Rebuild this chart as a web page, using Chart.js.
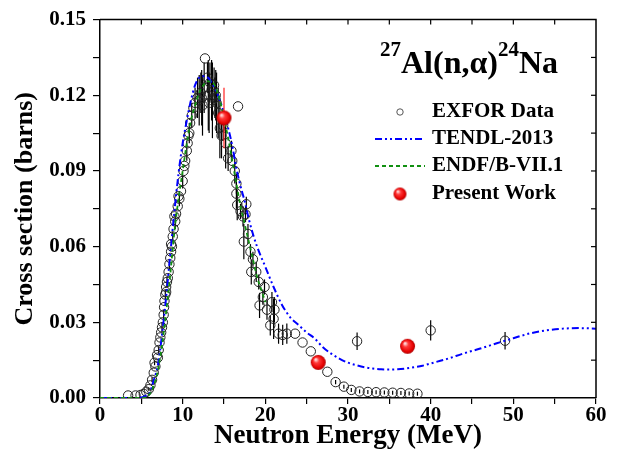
<!DOCTYPE html>
<html>
<head>
<meta charset="utf-8">
<script src="https://cdn.jsdelivr.net/npm/chart.js@4.4.1/dist/chart.umd.min.js"></script>
<style>
  html, body { margin: 0; padding: 0; background: #fff; }
  #wrap { position: relative; width: 618px; height: 461px; }
</style>
</head>
<body>
<div id="wrap"><canvas id="xsChart"></canvas></div>
<script>
// EXFOR measurements: energy (MeV), cross section (b), error (b)
const exforE = [3.4, 4.3, 4.9, 5.3, 5.6, 5.9, 6.1, 6.3, 6.5, 6.6, 6.7, 6.9, 7.0, 7.1, 7.2, 7.3, 7.4, 7.5, 7.6, 7.7,
  7.75, 7.8, 7.9, 8.0, 8.0, 8.1, 8.2, 8.3, 8.4, 8.5, 8.6, 8.6, 8.7, 8.8, 8.9, 9.0, 9.1, 9.2, 9.4, 9.5,
  9.6, 9.8, 10.0, 10.1, 10.2, 10.3, 10.5, 10.6, 10.7, 10.8, 10.9, 11.1, 11.3, 11.5, 11.8, 12.0, 12.2, 12.3, 12.4, 12.6,
  12.7, 13.0, 13.1, 13.2, 13.3, 13.5, 13.6, 13.8, 13.9, 14.0, 14.1, 14.3, 14.5, 14.7, 14.9, 15.2, 15.5, 15.9, 16.0, 16.3,
  16.5, 16.5, 16.6, 16.7, 17.0, 17.3, 17.4, 17.6, 17.7, 17.9, 18.2, 18.3, 18.5, 18.9, 19.2, 19.3, 19.7, 19.9, 20.2, 20.6,
  20.8, 21.0, 21.1, 21.6, 22.1, 22.6, 23.6, 24.5, 25.5, 27.5, 28.5, 29.5, 30.4, 31.4, 32.4, 33.4, 34.4, 35.4, 36.4, 37.4,
  38.4, 31.1, 40.0, 49.0];
const exforXs = [0.0010, 0.0010, 0.0012, 0.0016, 0.0025, 0.0035, 0.0050, 0.0072, 0.0100, 0.0140, 0.0125, 0.0170, 0.0160, 0.0190, 0.0220, 0.0240, 0.0260, 0.0280, 0.0300, 0.0330,
  0.0360, 0.0385, 0.0410, 0.0440, 0.0420, 0.0460, 0.0475, 0.0500, 0.0530, 0.0555, 0.0580, 0.0610, 0.0600, 0.0640, 0.0670, 0.0720, 0.0700, 0.0730, 0.0760, 0.0800,
  0.0790, 0.0820, 0.0860, 0.0900, 0.0920, 0.0940, 0.0980, 0.1010, 0.1040, 0.1050, 0.1090, 0.1120, 0.1150, 0.1170, 0.1190, 0.1180, 0.1210, 0.1190, 0.1160, 0.1230,
  0.1346, 0.1270, 0.1200, 0.1170, 0.1250, 0.1220, 0.1180, 0.1240, 0.1190, 0.1200, 0.1170, 0.1130, 0.1070, 0.1040, 0.1080, 0.1010, 0.0950, 0.0980, 0.0940, 0.0900,
  0.0850, 0.0810, 0.0765, 0.1156, 0.0740, 0.0720, 0.0620, 0.0728, 0.0768, 0.0650, 0.0580, 0.0500, 0.0550, 0.0500, 0.0460, 0.0367, 0.0400, 0.0440, 0.0350, 0.0288,
  0.0380, 0.0314, 0.0350, 0.0255, 0.0250, 0.0255, 0.0255, 0.0220, 0.0185, 0.0104, 0.0063, 0.0045, 0.0032, 0.0026, 0.0024, 0.0023, 0.0022, 0.0021, 0.0020, 0.0018,
  0.0017, 0.0225, 0.0268, 0.0227];
const exforErr = [0, 0, 0, 0, 0, 0.0006, 0, 0.001, 0, 0.001, 0, 0, 0, 0.0015, 0, 0, 0, 0.002, 0, 0.002,
  0, 0, 0.002, 0, 0, 0.002, 0, 0, 0.002, 0, 0, 0, 0, 0.002, 0, 0, 0.003, 0, 0, 0,
  0.003, 0, 0.003, 0, 0, 0, 0.004, 0, 0, 0.004, 0, 0.005, 0, 0.006, 0.008, 0.010, 0.008, 0.011, 0.012, 0.010,
  0, 0.006, 0.014, 0.012, 0.008, 0.012, 0.015, 0.007, 0.008, 0.010, 0.012, 0.010, 0.012, 0.009, 0.006, 0.010, 0.005, 0.004, 0, 0.005,
  0.004, 0.006, 0.006, 0, 0.003, 0.004, 0.007, 0.003, 0.003, 0.004, 0.003, 0.005, 0.003, 0.004, 0.003, 0.005, 0.003, 0.003, 0.004, 0.004,
  0.004, 0.008, 0.005, 0.004, 0.004, 0.004, 0, 0, 0, 0, 0.0008, 0.0008, 0.0008, 0.0008, 0.0008, 0.0008, 0.0008, 0.0008, 0.0008, 0.0008,
  0.0008, 0.0035, 0.004, 0.0035];

// TENDL-2013 evaluation
const tendlE = [0, 2, 4, 5, 5.5, 6, 6.5, 7, 7.5, 8, 8.5, 9, 9.5, 10, 10.5, 11, 11.5, 12, 12.5, 13,
  13.5, 14, 14.5, 15, 15.5, 16, 16.5, 17, 17.5, 18, 18.5, 19, 20, 21, 22, 23, 24, 25, 26, 27,
  28, 29, 30, 31, 32, 33, 34, 35, 36, 37, 38, 39, 40, 42, 44, 46, 48, 50, 52, 54, 56, 58, 60];
const tendlXs = [0, 0, 0, 0.0002, 0.0008, 0.002, 0.007, 0.013, 0.025, 0.040, 0.057, 0.074, 0.089, 0.101, 0.110, 0.118, 0.124, 0.127, 0.1275, 0.1272,
  0.125, 0.122, 0.118, 0.113, 0.107, 0.100, 0.091, 0.084, 0.078, 0.071, 0.065, 0.060, 0.052, 0.044, 0.037, 0.032, 0.029, 0.026, 0.0235, 0.020,
  0.0175, 0.0155, 0.014, 0.013, 0.0122, 0.0117, 0.0114, 0.0113, 0.0114, 0.0117, 0.0122, 0.0128, 0.0137, 0.0155, 0.0177, 0.0196, 0.0217, 0.0237, 0.0256, 0.0268, 0.0275, 0.0277, 0.0275];

// ENDF/B-VII.1 evaluation
const endfE = [0, 4, 5, 5.5, 6, 6.5, 7, 7.5, 8, 8.5, 9, 9.5, 10, 10.5, 11, 11.5, 12, 12.5, 13, 13.5,
  14, 14.5, 15, 15.5, 16, 16.5, 17, 17.5, 18, 18.5, 19, 19.5, 20];
const endfXs = [0, 0, 0, 0.0003, 0.0015, 0.005, 0.011, 0.021, 0.034, 0.049, 0.066, 0.079, 0.090, 0.101, 0.110, 0.116, 0.121, 0.124, 0.1255, 0.1255,
  0.123, 0.118, 0.111, 0.103, 0.094, 0.085, 0.076, 0.069, 0.062, 0.055, 0.048, 0.043, 0.038];

// Present work
const presentE = [15.0, 26.4, 37.2];
const presentXs = [0.111, 0.0141, 0.0205];
const presentErr = [0.012, 0.0008, 0.0008];

const xTicks = [0, 10, 20, 30, 40, 50, 60];
const yTicks = [0.00, 0.03, 0.06, 0.09, 0.12, 0.15];

const serif = '"Liberation Serif", "Times New Roman", serif';

function toPoints(xs, ys) {
  return xs.map((x, i) => ({ x: x, y: ys[i] }));
}

function makeSphere(r) {
  const c = document.createElement('canvas');
  c.width = c.height = Math.ceil(2 * r + 2);
  const g = c.getContext('2d');
  const cx = c.width / 2, cy = c.height / 2;
  const grad = g.createRadialGradient(cx - r * 0.35, cy - r * 0.4, r * 0.1, cx, cy, r);
  grad.addColorStop(0, '#ffd6d6');
  grad.addColorStop(0.3, '#ff3a3a');
  grad.addColorStop(0.8, '#e50000');
  grad.addColorStop(1, '#a80000');
  g.fillStyle = grad;
  g.beginPath();
  g.arc(cx, cy, r, 0, Math.PI * 2);
  g.fill();
  return c;
}
const sphere = makeSphere(7.5);
const smallSphere = makeSphere(6.5);

// error bars, drawn under each dataset's markers
const errorBars = {
  id: 'errorBars',
  beforeDatasetDraw(chart, args) {
    const ds = chart.data.datasets[args.index];
    if (!ds.errors) return;
    const { ctx, scales: { x, y } } = chart;
    ctx.save();
    ctx.strokeStyle = ds.errorColor;
    ctx.lineWidth = 1.2;
    ds.data.forEach((p, i) => {
      const e = ds.errors[i];
      if (!e) return;
      const px = x.getPixelForValue(p.x);
      ctx.beginPath();
      ctx.moveTo(px, y.getPixelForValue(p.y - e));
      ctx.lineTo(px, y.getPixelForValue(p.y + e));
      ctx.stroke();
    });
    ctx.restore();
  }
};

// top/right frame with inward ticks, title and legend
const decorations = {
  id: 'decorations',
  afterDraw(chart) {
    const { ctx, chartArea: a, scales: { x, y } } = chart;
    ctx.save();
    ctx.strokeStyle = '#000';
    ctx.lineWidth = 1.5;
    ctx.beginPath();
    ctx.moveTo(a.left, a.top);
    ctx.lineTo(a.right, a.top);
    ctx.lineTo(a.right, a.bottom);
    ctx.stroke();
    ctx.lineWidth = 1.2;
    for (let v = 5; v < 60; v += 5) {
      const px = x.getPixelForValue(v);
      ctx.beginPath();
      ctx.moveTo(px, a.top);
      ctx.lineTo(px, a.top + 5);
      ctx.stroke();
    }
    for (let k = 1; k < 10; k++) {
      const py = y.getPixelForValue(k * 0.015);
      ctx.beginPath();
      ctx.moveTo(a.right, py);
      ctx.lineTo(a.right - 5, py);
      ctx.stroke();
    }

    // reaction label
    ctx.fillStyle = '#000';
    ctx.textBaseline = 'alphabetic';
    ctx.textAlign = 'left';
    let tx = 380;
    const big = 'bold 32px ' + serif, sup = 'bold 21px ' + serif;
    const parts = [['27', sup, 56], ['Al(n,\u03b1)', big, 73], ['24', sup, 56], ['Na', big, 73]];
    parts.forEach(([t, f, by]) => {
      ctx.font = f;
      ctx.fillText(t, tx, by);
      tx += ctx.measureText(t).width;
    });

    // legend
    const rows = [112, 139, 166, 194];
    const labels = ['EXFOR Data', 'TENDL-2013', 'ENDF/B-VII.1', 'Present Work'];
    ctx.font = 'bold 21px ' + serif;
    ctx.textBaseline = 'middle';
    labels.forEach((t, i) => ctx.fillText(t, 432, rows[i]));

    ctx.strokeStyle = '#555';
    ctx.lineWidth = 1;
    ctx.beginPath();
    ctx.arc(400, rows[0], 3.2, 0, Math.PI * 2);
    ctx.stroke();

    ctx.lineWidth = 2;
    ctx.strokeStyle = '#0000ff';
    ctx.setLineDash([7, 3, 2, 3, 2, 3]);
    ctx.beginPath();
    ctx.moveTo(375, rows[1]);
    ctx.lineTo(425, rows[1]);
    ctx.stroke();

    ctx.strokeStyle = '#119011';
    ctx.setLineDash([4, 3]);
    ctx.beginPath();
    ctx.moveTo(375, rows[2]);
    ctx.lineTo(425, rows[2]);
    ctx.stroke();
    ctx.setLineDash([]);

    ctx.drawImage(smallSphere, 400 - smallSphere.width / 2, rows[3] - smallSphere.height / 2);
    ctx.restore();
  }
};

new Chart(document.getElementById('xsChart'), {
  type: 'scatter',
  data: {
    datasets: [
      {
        label: 'Present Work',
        data: toPoints(presentE, presentXs),
        errors: presentErr,
        errorColor: '#ff2020',
        pointStyle: sphere,
        pointRadius: 7.5,
        order: 0
      },
      {
        label: 'ENDF/B-VII.1',
        data: toPoints(endfE, endfXs),
        showLine: true,
        borderColor: '#119011',
        borderWidth: 1.8,
        borderDash: [4, 3],
        pointRadius: 0,
        cubicInterpolationMode: 'monotone',
        order: 1
      },
      {
        label: 'TENDL-2013',
        data: toPoints(tendlE, tendlXs),
        showLine: true,
        borderColor: '#0000ff',
        borderWidth: 2,
        borderDash: [7, 3, 2, 3, 2, 3],
        pointRadius: 0,
        cubicInterpolationMode: 'monotone',
        order: 2
      },
      {
        label: 'EXFOR Data',
        data: toPoints(exforE, exforXs),
        errors: exforErr,
        errorColor: '#000',
        pointStyle: 'circle',
        pointRadius: 4.7,
        borderColor: '#222',
        borderWidth: 1,
        backgroundColor: 'rgba(0,0,0,0)',
        order: 3
      }
    ]
  },
  options: {
    responsive: true,
    maintainAspectRatio: false,
    animation: false,
    devicePixelRatio: 1,
    layout: { padding: { left: 0, right: 22, top: 18, bottom: 0 } },
    plugins: { legend: { display: false }, tooltip: { enabled: false } },
    scales: {
      x: {
        type: 'linear',
        min: 0,
        max: 60,
        afterFit(scale) { scale.height = 63; },
        ticks: {
          stepSize: 5,
          autoSkip: false,
          maxRotation: 0,
          padding: -1,
          color: '#000',
          font: { family: serif, size: 21, weight: 'bold' },
          callback: v => (xTicks.includes(v) ? v : '')
        },
        grid: { drawOnChartArea: false, color: '#000', tickLength: 6, lineWidth: 1.2 },
        border: { color: '#000', width: 1.5 },
        title: {
          display: true,
          text: 'Neutron Energy (MeV)',
          color: '#000',
          font: { family: serif, size: 27, weight: 'bold' },
          padding: { top: 0, bottom: 9 }
        }
      },
      y: {
        min: 0,
        max: 0.15,
        afterFit(scale) { scale.width = 100; },
        ticks: {
          stepSize: 0.015,
          autoSkip: false,
          padding: 7,
          color: '#000',
          font: { family: serif, size: 21, weight: 'bold' },
          callback: v => {
            const t = yTicks.find(k => Math.abs(k - v) < 1e-6);
            return t === undefined ? '' : t.toFixed(2);
          }
        },
        grid: { drawOnChartArea: false, color: '#000', tickLength: 7, lineWidth: 1.2 },
        border: { color: '#000', width: 1.5 },
        title: {
          display: true,
          text: 'Cross section (barns)',
          color: '#000',
          font: { family: serif, size: 26, weight: 'bold' },
          padding: { top: 10, bottom: 0 }
        }
      }
    }
  },
  plugins: [errorBars, decorations]
});
</script>
</body>
</html>
